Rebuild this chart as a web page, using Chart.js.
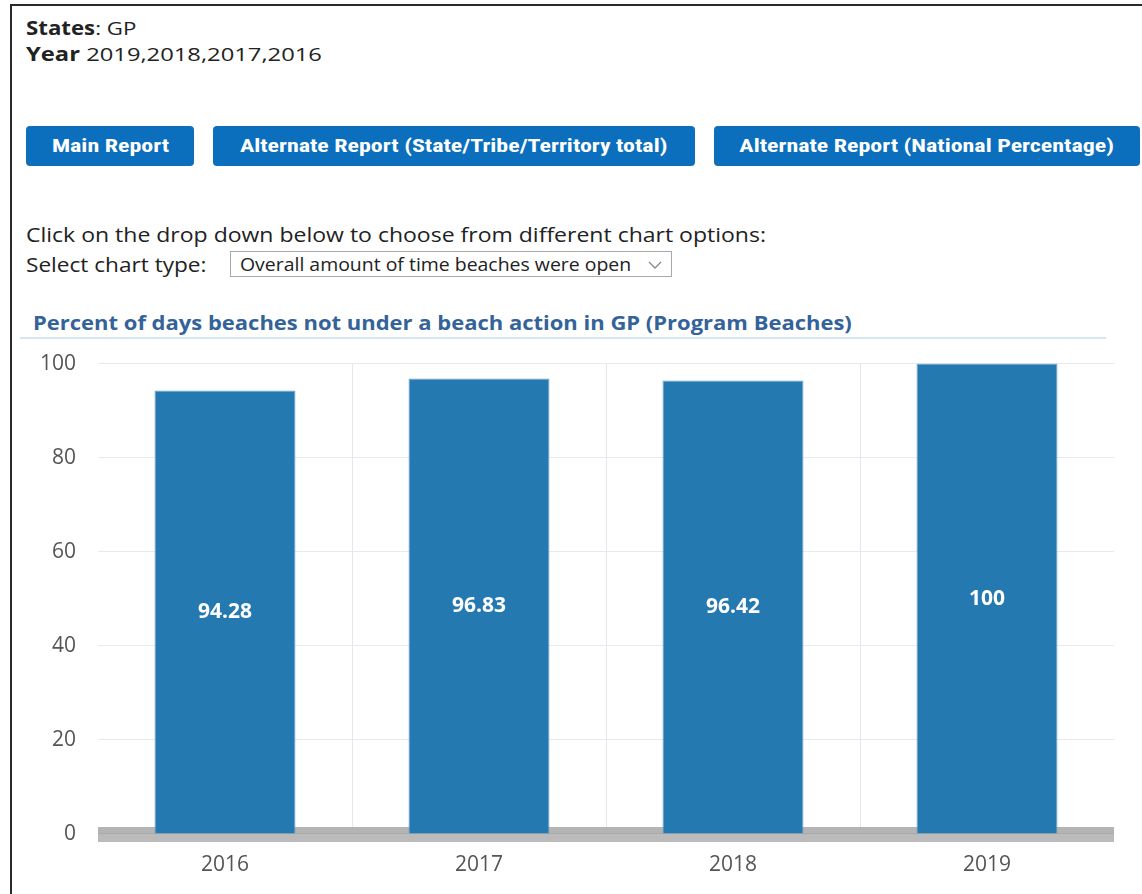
<!DOCTYPE html>
<html>
<head>
<meta charset="utf-8">
<title>Beach report</title>
<script src="https://cdn.jsdelivr.net/npm/chart.js@4.4.0/dist/chart.umd.min.js"></script>
<style>
  html, body { margin: 0; padding: 0; background: #fff; }
  body { width: 1142px; height: 894px; overflow: hidden; position: relative; font-family: "Open Sans", sans-serif; color: #222; }
  .frame { position: absolute; left: 10px; top: 4px; right: -4px; bottom: -4px; border-top: 2px solid #2a2a2a; border-left: 2px solid #2a2a2a; }
  .wide { display: inline-block; transform-origin: 0 50%; white-space: nowrap; }
  .info { position: absolute; left: 26px; font-size: 19px; line-height: 24px; }
  .info b { font-weight: 700; }
  .btn { position: absolute; top: 126px; height: 40px; background: #0b6fbd; color: #fff; border-radius: 4px;
         font-family: "Liberation Sans Narrow", "Roboto Condensed", Roboto, sans-serif; font-weight: 700; font-size: 19px;
         line-height: 40px; text-align: center; white-space: nowrap; }
  .btn span { display: inline-block; transform: scaleX(1.26); }
  .hint { position: absolute; left: 26px; top: 222px; font-size: 20px; line-height: 26px; }
  .lbl { position: absolute; left: 26px; top: 252px; font-size: 20px; line-height: 26px; }
  .select { position: absolute; left: 230px; top: 251px; width: 442px; height: 26px; border: 1px solid #a9a9a9; box-sizing: border-box; font-size: 18px; line-height: 24px; padding-left: 9px; }
  .select svg { position: absolute; right: 9px; top: 9px; }
  .chart-title { position: absolute; left: 33px; top: 310px; font-size: 19px; font-weight: 700; color: #336399; white-space: nowrap; }
  .rule { position: absolute; left: 20px; top: 337px; width: 1086px; height: 2px; background: #d6e5f4; }
  .chart-box { position: absolute; left: 20px; top: 329px; width: 1094px; height: 561px; }
</style>
</head>
<body>
<div class="frame"></div>
<div class="info" style="top:16px"><span class="wide" style="transform:scaleX(1.17)"><b>States</b>: GP</span></div>
<div class="info" style="top:42px"><span class="wide" style="transform:scaleX(1.25)"><b>Year</b> 2019,2018,2017,2016</span></div>

<div class="btn" style="left:26px;width:168px"><span>Main Report</span></div>
<div class="btn" style="left:213px;width:482px"><span>Alternate Report (State/Tribe/Territory total)</span></div>
<div class="btn" style="left:714px;width:426px"><span>Alternate Report (National Percentage)</span></div>

<div class="hint"><span class="wide" style="transform:scaleX(1.15)">Click on the drop down below to choose from different chart options:</span></div>
<div class="lbl"><span class="wide" style="transform:scaleX(1.13)">Select chart type:</span></div>
<div class="select"><span class="wide" style="transform:scaleX(1.08)">Overall amount of time beaches were open</span>
  <svg width="14" height="8" viewBox="0 0 14 8"><polyline points="1,1 7,7 13,1" fill="none" stroke="#888" stroke-width="1.3"/></svg>
</div>

<div class="chart-title"><span class="wide" style="transform:scaleX(1.157)">Percent of days beaches not under a beach action in GP (Program Beaches)</span></div>
<div class="rule"></div>

<div class="chart-box"><canvas id="grafico-praias"></canvas></div>

<script>
// dados do gráfico
const anos = ['2016', '2017', '2018', '2019'];
const percentuais = [94.28, 96.83, 96.42, 100];
const ticksY = [0, 20, 40, 60, 80, 100];

const corBarra = '#2579b1';
const fonteEixo = { family: 'Open Sans', size: 21 };

// faixa cinza sobre a linha do zero
const faixaZero = {
  id: 'faixaZero',
  beforeDatasetsDraw(chart) {
    const { ctx, chartArea, scales } = chart;
    const y0 = scales.y.getPixelForValue(0);
    const w = chartArea.right - chartArea.left;
    ctx.save();
    ctx.fillStyle = '#b4b4b4';
    ctx.fillRect(chartArea.left, y0 - 7, w, 7);
    ctx.fillStyle = '#bbbbbb';
    ctx.fillRect(chartArea.left, y0, w, 8);
    ctx.fillStyle = '#a9a9a9';
    ctx.fillRect(chartArea.left, y0 - 1, w, 1);
    ctx.restore();
  }
};

// rótulos de valor no meio das barras
const rotulosBarras = {
  id: 'rotulosBarras',
  afterDatasetsDraw(chart) {
    const { ctx } = chart;
    const meta = chart.getDatasetMeta(0);
    ctx.save();
    ctx.fillStyle = '#fff';
    ctx.font = 'bold 21px "Open Sans"';
    ctx.textAlign = 'center';
    ctx.textBaseline = 'middle';
    meta.data.forEach((barra, i) => {
      const v = chart.data.datasets[0].data[i];
      ctx.fillText(String(v), barra.x, (barra.y + barra.base) / 2);
    });
    ctx.restore();
  }
};

function criarGrafico() {
  const canvas = document.getElementById('grafico-praias');
  new Chart(canvas.getContext('2d'), {
    type: 'bar',
    data: {
      labels: anos,
      datasets: [{
        data: percentuais,
        backgroundColor: corBarra,
        borderColor: '#6aa2cb',
        borderWidth: 1,
        categoryPercentage: 1,
        barPercentage: 0.555
      }]
    },
    options: {
      responsive: true,
      maintainAspectRatio: false,
      animation: false,
      layout: { padding: { top: 3, right: 0, bottom: 0, left: 0 } },
      plugins: { legend: { display: false }, tooltip: { enabled: false } },
      scales: {
        x: {
          border: { display: false },
          grid: {
            drawTicks: false,
            color: c => (c.index === 0 || c.index === undefined) ? 'rgba(0,0,0,0)' : '#e4e7ee'
          },
          ticks: { color: '#555', font: fonteEixo, padding: 18 },
          afterFit: s => { s.height = 56; }
        },
        y: {
          min: 0,
          max: 100,
          border: { display: false },
          grid: { drawTicks: false, color: '#e6e9ef' },
          afterBuildTicks: s => { s.ticks = ticksY.map(v => ({ value: v })); },
          ticks: { color: '#555', font: fonteEixo, padding: 22 },
          afterFit: s => { s.width = 78; }
        }
      }
    },
    plugins: [faixaZero, rotulosBarras]
  });
}

criarGrafico();
</script>
</body>
</html>
